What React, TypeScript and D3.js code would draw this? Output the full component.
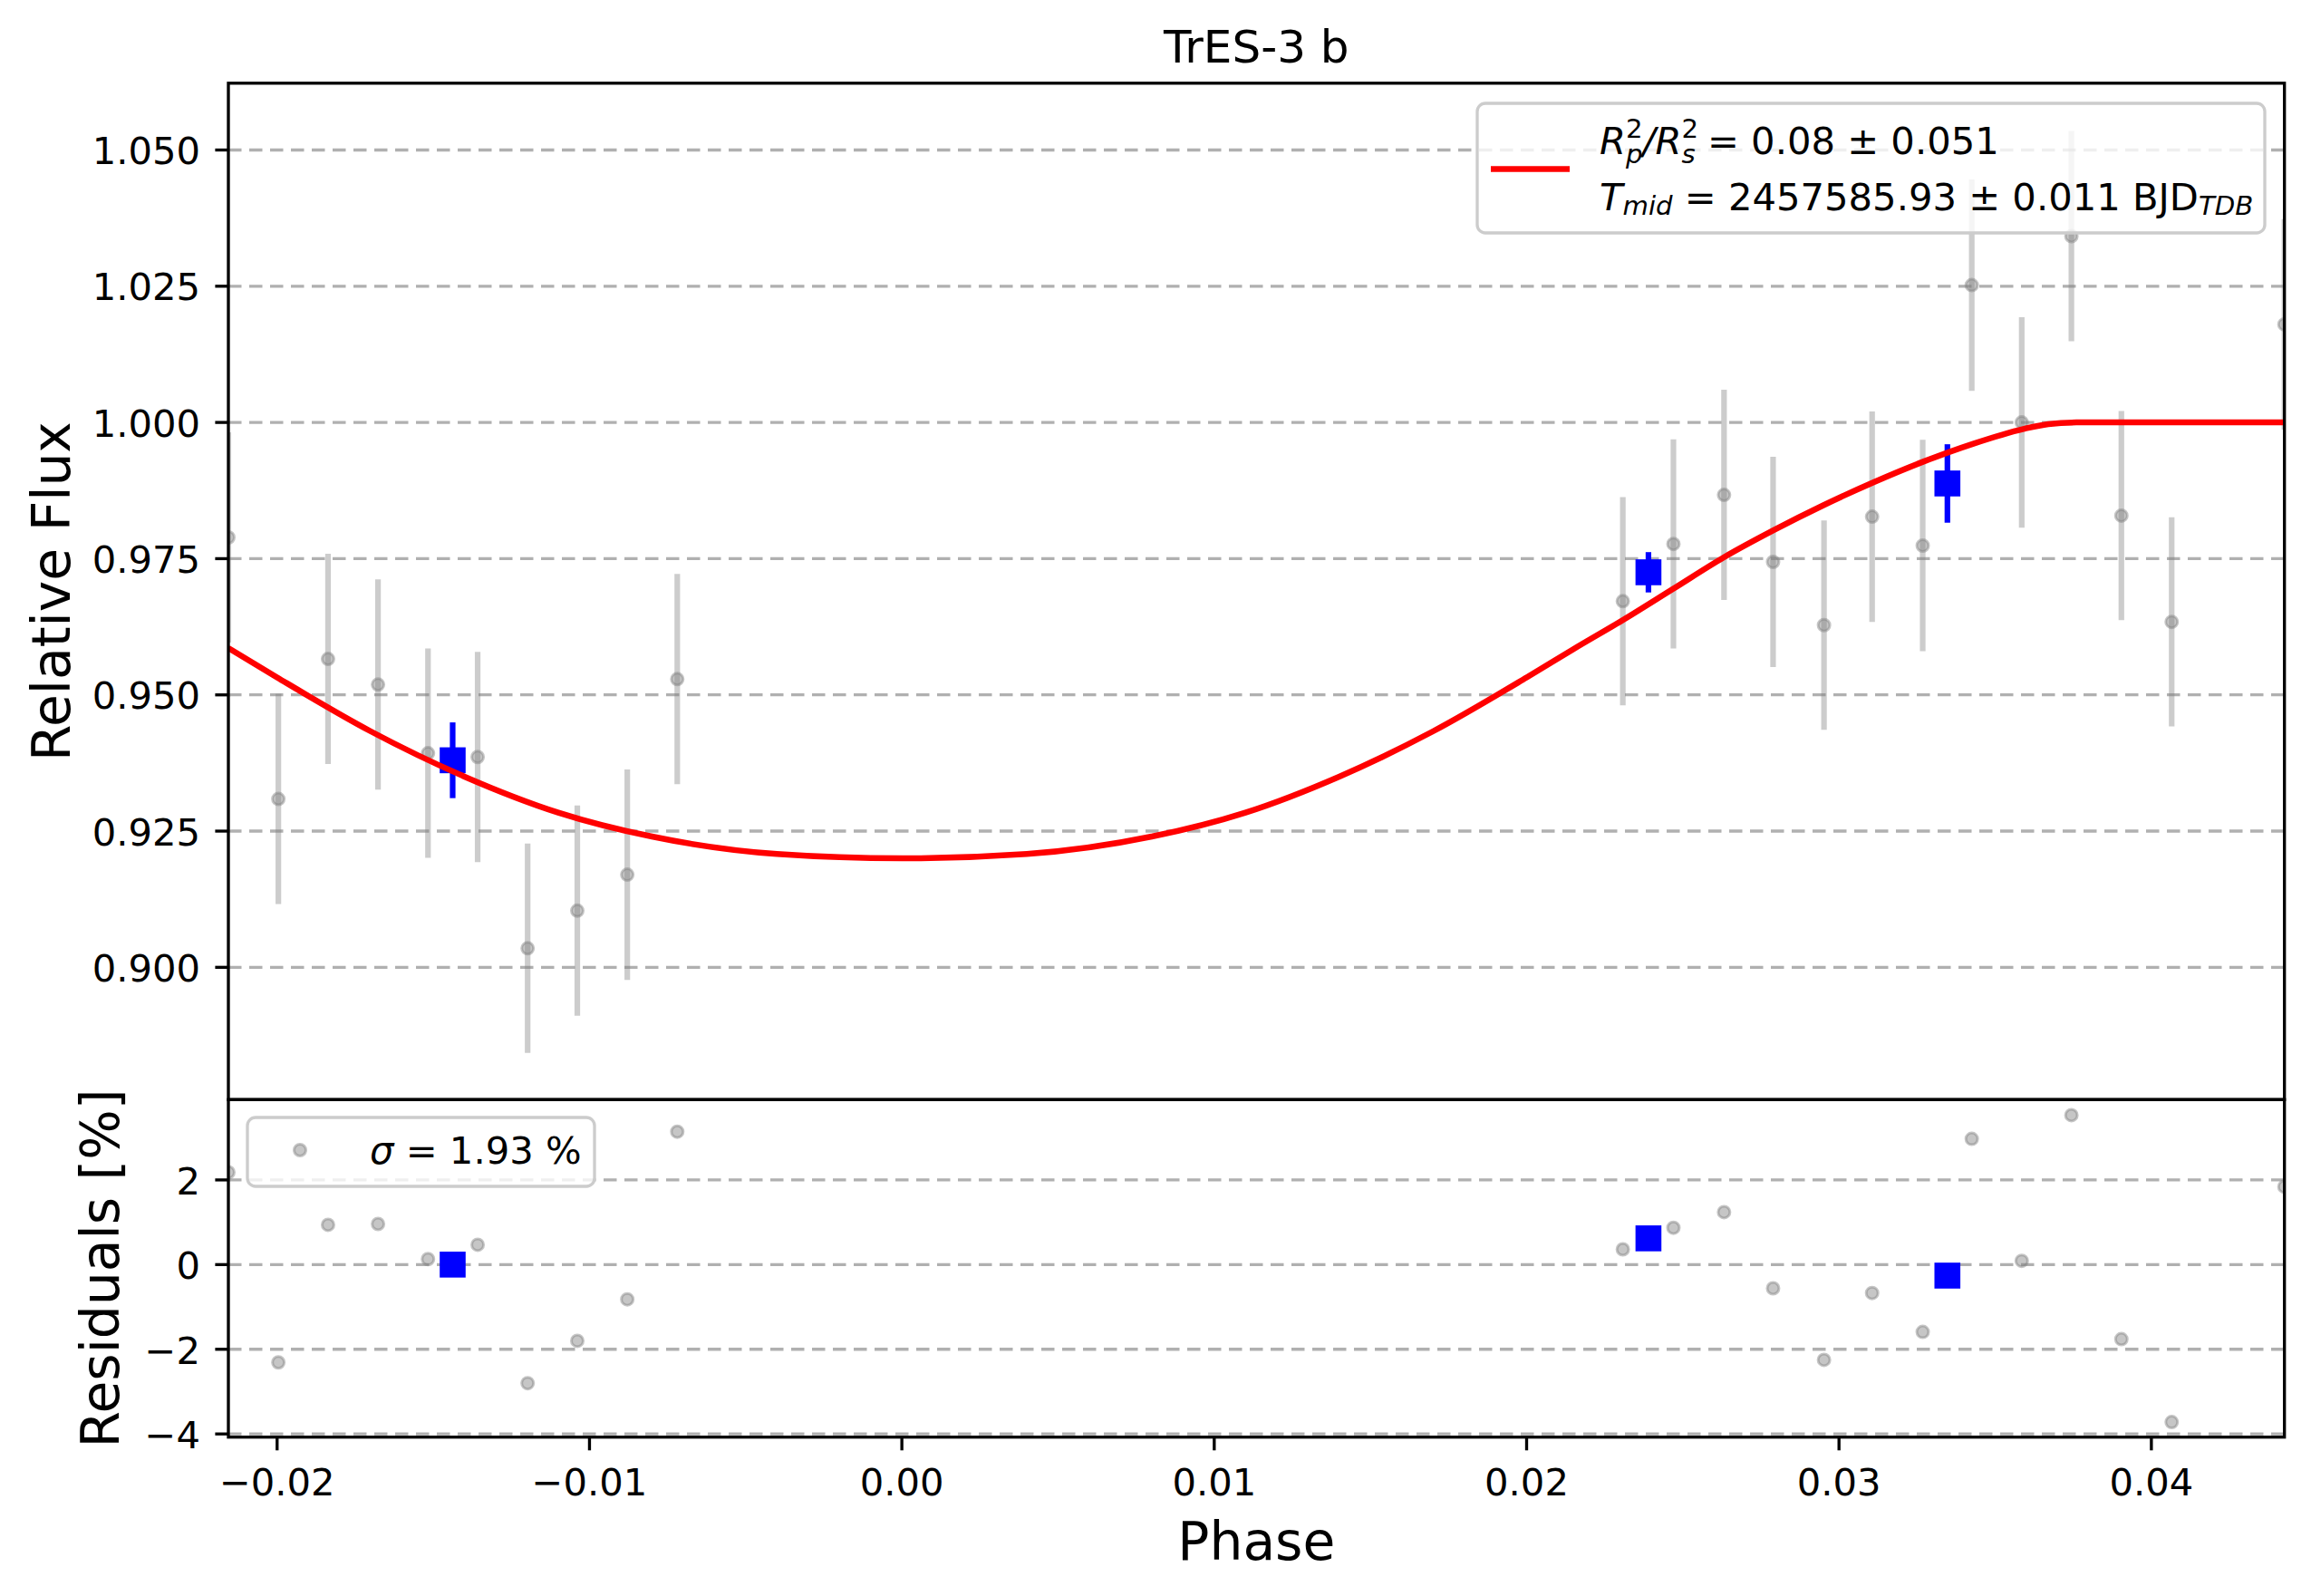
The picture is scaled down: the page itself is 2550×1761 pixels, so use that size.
import React from "react";
import * as d3 from "d3";

// unbinned observations (phase, relative flux, 1-sigma error, residual in %)
const phase = [
  -0.02156, -0.01996, -0.01837, -0.01677, -0.01517, -0.01358, -0.01198, -0.01039, -0.00879, -0.00719,
  0.02308, 0.0247, 0.02632, 0.02789, 0.02952, 0.03106, 0.03268, 0.03425, 0.03585, 0.03744, 0.03904, 0.04065, 0.04426,
];
const flux = [
  0.9789, 0.9309, 0.9566, 0.9519, 0.9393, 0.9386, 0.9035, 0.9104, 0.917, 0.9529,
  0.9672, 0.9777, 0.9867, 0.9744, 0.9628, 0.9827, 0.9774, 1.0252, 1.0, 1.0342, 0.9829, 0.9634, 1.018,
];
const fluxErr = [
  0.0193, 0.0193, 0.0193, 0.0193, 0.0192, 0.0193, 0.0192, 0.0193, 0.0193, 0.0193,
  0.0191, 0.0192, 0.0193, 0.0193, 0.0192, 0.0193, 0.0194, 0.0194, 0.0193, 0.0193, 0.0192, 0.0192, 0.0193,
];
const resid = [
  2.18, -2.31, 0.94, 0.96, 0.13, 0.47, -2.8, -1.8, -0.82, 3.14,
  0.36, 0.87, 1.24, -0.56, -2.25, -0.67, -1.59, 2.97, 0.09, 3.53, -1.76, -3.72, 1.84,
];

// binned points
const binPhase = [-0.01438, 0.0239, 0.03347];
const binFlux = [0.938, 0.9725, 0.9888];
const binErr = [0.00695, 0.0037, 0.0072];
const binResid = [0.0, 0.62, -0.26];

// transit model
const modelPhase = [
  -0.02156, -0.02, -0.017, -0.014, -0.011, -0.008, -0.004, 0.0, 0.004, 0.008, 0.011, 0.014, 0.017, 0.02,
  0.0215, 0.0231, 0.0247, 0.0263, 0.0279, 0.0295, 0.0311, 0.0327, 0.0343, 0.0359, 0.0367, 0.0376, 0.04426,
];
const modelFlux = [
  0.9586, 0.9532, 0.9433, 0.935, 0.9284, 0.924, 0.9208, 0.92, 0.9208, 0.924, 0.9284, 0.935, 0.9433, 0.9532,
  0.9584, 0.9638, 0.9695, 0.9752, 0.9802, 0.9848, 0.989, 0.9928, 0.9961, 0.9988, 0.9997, 1.0, 1.0,
];

const xTicks = [-0.02, -0.01, 0.0, 0.01, 0.02, 0.03, 0.04];
const fluxTicks = [0.9, 0.925, 0.95, 0.975, 1.0, 1.025, 1.05];
const residTicks = [-4, -2, 0, 2];

const W = 2550;
const H = 1761;
const L = 252;
const R = 2520.7;
const T = 91.8;
const MID = 1213.3;
const B = 1585.7;

const FONT = "DejaVu Sans";
const TICK = 41.7;
const SUB = 29.2;
const minus = (s: string) => s.replace("-", "\u2212");

export default function App() {
  const x = d3.scaleLinear().domain(d3.extent(phase) as [number, number]).range([L, R]);
  const y = d3.scaleLinear().domain([0.87572, 1.06226]).range([MID, T]);
  const yr = d3.scaleLinear().domain([-4.075, 3.897]).range([B, MID]);

  const line = d3
    .line<number>()
    .x((_, i) => x(modelPhase[i]))
    .y((d) => y(d))
    .curve(d3.curveMonotoneX);

  const gray = "#808080";

  return (
    <svg width={W} height={H} style={{ position: "absolute", left: 0, top: 0, background: "#fff" }}>
      <style>{"body{margin:0}"}</style>
      <defs>
        <clipPath id="clipMain">
          <rect x={L} y={T} width={R - L} height={MID - T} />
        </clipPath>
        <clipPath id="clipRes">
          <rect x={L} y={MID} width={R - L} height={B - MID} />
        </clipPath>
      </defs>
      <rect width={W} height={H} fill="#fff" />

      {/* title */}
      <text x={(L + R) / 2} y={69} fontSize={50} fontFamily={FONT} textAnchor="middle">
        TrES-3 b
      </text>

      {/* ---------- main panel ---------- */}
      <g>
        {fluxTicks.map((t) => (
          <line key={t} x1={L} x2={R} y1={y(t)} y2={y(t)} stroke="#b0b0b0" strokeWidth={3.3} strokeDasharray="14.5,8.5" />
        ))}
        <g clipPath="url(#clipMain)">
          {phase.map((p, i) => (
            <line key={"e" + i} x1={x(p)} x2={x(p)} y1={y(flux[i] - fluxErr[i])} y2={y(flux[i] + fluxErr[i])}
              stroke={gray} strokeOpacity={0.4} strokeWidth={6.2} />
          ))}
          {phase.map((p, i) => (
            <circle key={"m" + i} cx={x(p)} cy={y(flux[i])} r={6.5} fill={gray} fillOpacity={0.45}
              stroke={gray} strokeOpacity={0.45} strokeWidth={3} />
          ))}
          {binPhase.map((p, i) => (
            <g key={"b" + i}>
              <line x1={x(p)} x2={x(p)} y1={y(binFlux[i] - binErr[i])} y2={y(binFlux[i] + binErr[i])} stroke="#0000ff" strokeWidth={6.2} />
              <rect x={x(p) - 14.3} y={y(binFlux[i]) - 14.3} width={28.6} height={28.6} fill="#0000ff" />
            </g>
          ))}
          <path d={line(modelFlux) || ""} fill="none" stroke="#ff0000" strokeWidth={6.5} />
        </g>
        <rect x={L} y={T} width={R - L} height={MID - T} fill="none" stroke="#000" strokeWidth={3.33} />
        {fluxTicks.map((t) => (
          <g key={"yt" + t}>
            <line x1={L - 14.6} x2={L} y1={y(t)} y2={y(t)} stroke="#000" strokeWidth={3.33} />
            <text x={221} y={y(t) + 15.5} fontSize={TICK} fontFamily={FONT} textAnchor="end">
              {d3.format(".3f")(t)}
            </text>
          </g>
        ))}
        <text transform={`translate(77,${(T + MID) / 2}) rotate(-90)`} fontSize={58.3} fontFamily={FONT} textAnchor="middle">
          Relative Flux
        </text>

        {/* legend */}
        <rect x={1630} y={114} width={869} height={143} rx={9} fill="#fff" fillOpacity={0.8} stroke="#cccccc" strokeWidth={3.33} />
        <line x1={1645} x2={1732} y1={186.6} y2={186.6} stroke="#ff0000" strokeWidth={6.5} />
        <text x={1765} y={169.6} fontSize={TICK} fontFamily={FONT}>
          <tspan fontStyle="italic">R</tspan>
          <tspan fontSize={SUB} dy={-17.5}>2</tspan>
          <tspan fontSize={SUB} fontStyle="italic" dx={-18.6} dy={28}>p</tspan>
          <tspan fontStyle="italic" dy={-10.5}>/R</tspan>
          <tspan fontSize={SUB} dy={-17.5}>2</tspan>
          <tspan fontSize={SUB} fontStyle="italic" dx={-18.6} dy={28}>s</tspan>
          <tspan dy={-10.5}>{" = 0.08 \u00b1 0.051"}</tspan>
        </text>
        <text x={1765} y={232} fontSize={TICK} fontFamily={FONT}>
          <tspan fontStyle="italic">T</tspan>
          <tspan fontSize={SUB} fontStyle="italic" dy={4.5}>mid</tspan>
          <tspan dy={-4.5}>{" = 2457585.93 \u00b1 0.011 BJD"}</tspan>
          <tspan fontSize={SUB} fontStyle="italic" dy={4.5}>TDB</tspan>
        </text>
      </g>

      {/* ---------- residual panel ---------- */}
      <g>
        {residTicks.map((t) => (
          <line key={t} x1={L} x2={R} y1={yr(t)} y2={yr(t)} stroke="#b0b0b0" strokeWidth={3.3} strokeDasharray="14.5,8.5" />
        ))}
        <g clipPath="url(#clipRes)">
          {phase.map((p, i) => (
            <circle key={"r" + i} cx={x(p)} cy={yr(resid[i])} r={6.5} fill={gray} fillOpacity={0.45}
              stroke={gray} strokeOpacity={0.45} strokeWidth={3} />
          ))}
          {binPhase.map((p, i) => (
            <rect key={"rb" + i} x={x(p) - 14.3} y={yr(binResid[i]) - 14.3} width={28.6} height={28.6} fill="#0000ff" />
          ))}
        </g>
        <rect x={L} y={MID} width={R - L} height={B - MID} fill="none" stroke="#000" strokeWidth={3.33} />
        {residTicks.map((t) => (
          <g key={"rt" + t}>
            <line x1={L - 14.6} x2={L} y1={yr(t)} y2={yr(t)} stroke="#000" strokeWidth={3.33} />
            <text x={221} y={yr(t) + 16} fontSize={TICK} fontFamily={FONT} textAnchor="end">
              {minus(String(t))}
            </text>
          </g>
        ))}
        {xTicks.map((t) => (
          <g key={"xt" + t}>
            <line x1={x(t)} x2={x(t)} y1={B} y2={B + 14.6} stroke="#000" strokeWidth={3.33} />
            <text x={x(t)} y={1650} fontSize={TICK} fontFamily={FONT} textAnchor="middle">
              {minus(d3.format(".2f")(t))}
            </text>
          </g>
        ))}
        <text transform={`translate(130.5,${(MID + B) / 2}) rotate(-90)`} fontSize={58.3} fontFamily={FONT} textAnchor="middle">
          Residuals [%]
        </text>
        <text x={(L + R) / 2} y={1721} fontSize={58.3} fontFamily={FONT} textAnchor="middle">
          Phase
        </text>

        {/* legend */}
        <rect x={273} y={1233} width={383} height={76} rx={9} fill="#fff" fillOpacity={0.8} stroke="#cccccc" strokeWidth={3.33} />
        <circle cx={331} cy={1269} r={6.5} fill={gray} fillOpacity={0.45} stroke={gray} strokeOpacity={0.45} strokeWidth={3} />
        <text x={408} y={1284} fontSize={TICK} fontFamily={FONT}>
          <tspan fontStyle="italic">{"\u03c3"}</tspan>
          <tspan>{" = 1.93 %"}</tspan>
        </text>
      </g>
    </svg>
  );
}
